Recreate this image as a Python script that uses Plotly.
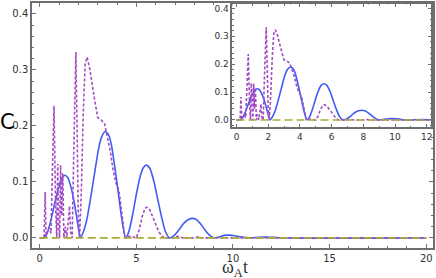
import plotly.graph_objects as go

# ---- data ----
t_blue = [0, 0.2, 0.4, 0.6, 0.8, 1.0, 1.15, 1.3, 1.45, 1.6, 1.75, 1.9, 2.0, 2.1,
          2.25, 2.45, 2.65, 2.85, 3.05, 3.2, 3.38, 3.55, 3.7, 3.85, 4.0, 4.15, 4.3, 4.45,
          4.6, 4.8, 5.0, 5.2, 5.35, 5.52, 5.7, 5.9, 6.1, 6.3, 6.5, 6.72,
          6.95, 7.2, 7.45, 7.7, 7.9, 8.1, 8.35, 8.6, 8.85, 9.0,
          9.3, 9.55, 9.8, 10.1, 10.4, 10.9, 11.3, 11.7, 12.1, 12.6, 20]
c_blue = [0, 0, 0.010, 0.035, 0.065, 0.092, 0.107, 0.112, 0.108, 0.093, 0.070, 0.040, 0.018, 0,
          0.010, 0.035, 0.075, 0.118, 0.160, 0.180, 0.190, 0.185, 0.168, 0.135, 0.098, 0.058, 0.022, 0,
          0.010, 0.040, 0.078, 0.110, 0.125, 0.130, 0.124, 0.102, 0.070, 0.038, 0.012, 0,
          0.004, 0.014, 0.026, 0.033, 0.035, 0.033, 0.024, 0.012, 0.003, 0,
          0.002, 0.0045, 0.005, 0.004, 0.002, 0, 0.001, 0.0015, 0.001, 0, 0]

t_purple = [0, 0.22, 0.28, 0.33, 0.4, 0.5, 0.58, 0.66, 0.74, 0.82, 0.88, 0.93, 0.98, 1.03,
            1.08, 1.13, 1.19, 1.25, 1.32, 1.4, 1.48, 1.54, 1.6, 1.68, 1.76, 1.82, 1.87, 1.93,
            1.99, 2.06, 2.15, 2.25, 2.35, 2.45, 2.6, 2.8, 3.0, 3.2, 3.35, 3.5, 3.65, 3.8, 3.95,
            4.1, 4.2, 4.3, 4.4, 4.6, 4.8, 5.0, 5.15, 5.3, 5.45, 5.55, 5.7, 5.85, 6.0, 6.15,
            6.3, 6.45, 6.9, 7.15, 7.4, 8.0, 8.2, 8.4, 20]
c_purple = [0, 0, 0.082, 0, 0.012, 0.018, 0.008, 0.12, 0.236, 0.06, 0.0, 0.132, 0.02, 0.0,
            0.13, 0.04, 0.115, 0.0, 0.02, 0.0, 0.03, 0.057, 0.01, 0.0, 0.15, 0.30, 0.332, 0.20,
            0.05, 0.0, 0.08, 0.22, 0.31, 0.323, 0.30, 0.255, 0.215, 0.21, 0.205, 0.18, 0.155, 0.12, 0.097,
            0.085, 0.06, 0.03, 0.0, 0.003, 0.002, 0.0, 0.015, 0.038, 0.053, 0.055, 0.050, 0.038, 0.024, 0.012,
            0.004, 0.0, 0.0, 0.003, 0.0, 0.0, 0.002, 0.0, 0.0]

t_olive = [0, 20]
c_olive = [0, 0]

# tick spacing (labels 0,5,...,20 / 0.0,...,0.4 / inset 0,2,...,12)
main_xtick_step = 5
main_ytick_step = 0.1
inset_xtick_step = 2
inset_ytick_step = 0.1

BLUE = "#3f5cf5"
PURPLE = "#a24cc4"
OLIVE = "#a9aa3a"
AXC = "#6e6e6e"

fig = go.Figure()
for xa, ya in [("x", "y"), ("x2", "y2")]:
    fig.add_trace(go.Scatter(x=t_blue, y=c_blue, mode="lines", xaxis=xa, yaxis=ya,
                             line=dict(color=BLUE, width=1.6, shape="spline", smoothing=0.6)))
    fig.add_trace(go.Scatter(x=t_purple, y=c_purple, mode="lines", xaxis=xa, yaxis=ya,
                             line=dict(color=PURPLE, width=1.6, dash="3px,2px")))
    fig.add_trace(go.Scatter(x=t_olive, y=c_olive, mode="lines", xaxis=xa, yaxis=ya,
                             line=dict(color=OLIVE, width=1.6, dash="8px,4px")))


def ax(fontsize, **kw):
    d = dict(showline=True, linecolor=AXC, linewidth=1.5, mirror="ticks",
             ticks="inside", tickcolor=AXC, tickwidth=1, showgrid=False, zeroline=False,
             tickmode="linear", tick0=0,
             tickfont=dict(family="DejaVu Sans", size=fontsize, color="#333"))
    d.update(kw)
    return d


fig.update_layout(
    width=436, height=278, showlegend=False,
    margin=dict(l=32, r=1, t=1, b=30, pad=0),
    paper_bgcolor="white", plot_bgcolor="white",
    xaxis=ax(10, range=[-0.4, 20.35], dtick=main_xtick_step, ticklen=4,
             minor=dict(dtick=1, tick0=0, ticklen=2, ticks="inside", tickcolor=AXC),
             domain=[0, 1], anchor="y"),
    yaxis=ax(10, range=[-0.018, 0.4196], dtick=main_ytick_step, tickformat=".1f", ticklen=4,
             minor=dict(dtick=0.02, tick0=0, ticklen=2, ticks="inside", tickcolor=AXC),
             domain=[0, 1], anchor="x"),
    xaxis2=ax(9, range=[-0.27, 12.27], dtick=inset_xtick_step, ticklen=3, anchor="y2",
              minor=dict(dtick=1, tick0=0, ticklen=1.5, ticks="inside", tickcolor=AXC),
              domain=[0.4994, 0.995]),
    yaxis2=ax(9, range=[-0.025, 0.414], dtick=inset_ytick_step, tickformat=".1f", ticklen=3, anchor="x2",
              minor=dict(dtick=0.02, tick0=0, ticklen=1.5, ticks="inside", tickcolor=AXC),
              domain=[0.494, 0.994]),
)

fig.add_annotation(text="C", xref="paper", yref="paper", x=-0.06, y=0.515,
                   xanchor="center", yanchor="middle", showarrow=False,
                   font=dict(family="DejaVu Sans", size=21, color="#000"))
fig.add_annotation(text="ω<sub>A</sub>t", xref="paper", yref="paper", x=0.506, y=-0.082,
                   xanchor="center", yanchor="middle", showarrow=False,
                   font=dict(family="Liberation Serif", size=18, color="#333"))

fig.write_html("out.html", config={"displayModeBar": False},
               post_script="document.body.style.margin='0';")
